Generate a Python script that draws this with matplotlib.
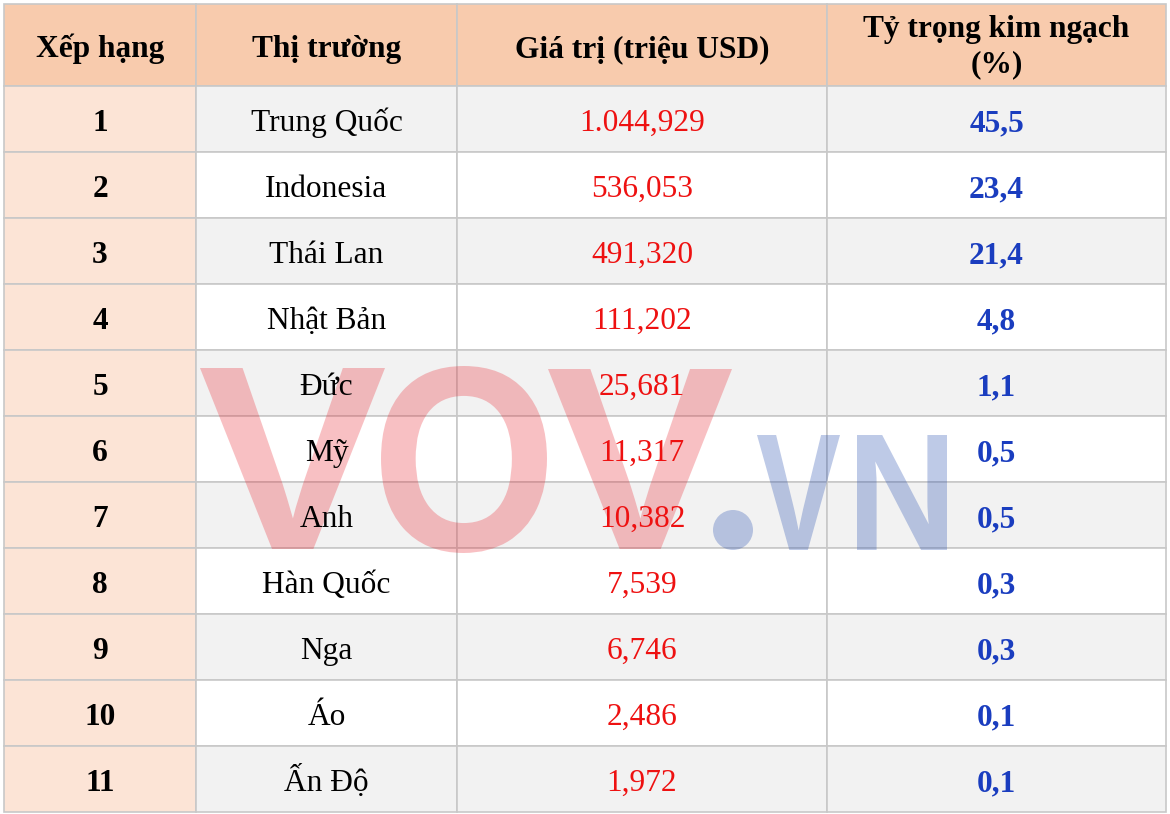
import matplotlib.pyplot as plt
from matplotlib.patches import Rectangle, PathPatch
from matplotlib.path import Path
from matplotlib.textpath import TextPath
from matplotlib.font_manager import FontProperties
from matplotlib.transforms import Affine2D

# Table data
headers = ["Xếp hạng", "Thị trường", "Giá trị (triệu USD)", "Tỷ trọng kim ngạch\n(%)"]
ranks = ["1", "2", "3", "4", "5", "6", "7", "8", "9", "10", "11"]
markets = ["Trung Quốc", "Indonesia", "Thái Lan", "Nhật Bản", "Đức", "Mỹ", "Anh",
           "Hàn Quốc", "Nga", "Áo", "Ấn Độ"]
values = ["1.044,929", "536,053", "491,320", "111,202", "25,681", "11,317", "10,382",
          "7,539", "6,746", "2,486", "1,972"]
shares = ["45,5", "23,4", "21,4", "4,8", "1,1", "0,5", "0,5", "0,3", "0,3", "0,1", "0,1"]

W, H = 1170, 814
col_edges = [4, 196, 457, 827, 1166]
header_top, header_bot = 4, 86
row_h = (812 - header_bot) / len(ranks)

fig = plt.figure(figsize=(W / 100, H / 100), dpi=100)
ax = fig.add_axes([0, 0, 1, 1])
ax.set_xlim(0, W)
ax.set_ylim(H, 0)
ax.axis("off")

serif = ["Liberation Serif", "DejaVu Serif"]
grid = "#c8c8c8"
fs = 22.6

# header
for j, h in enumerate(headers):
    x0, x1 = col_edges[j], col_edges[j + 1]
    ax.add_patch(Rectangle((x0, header_top), x1 - x0, header_bot - header_top,
                           facecolor="#f8cbad", edgecolor=grid, lw=1.2, zorder=1))
    lines = h.split("\n")
    base = 57 if len(lines) == 1 else 37
    for k, line in enumerate(lines):
        ax.text((x0 + x1) / 2, base + 35 * k, line, ha="center", va="baseline",
                fontsize=fs, fontweight="bold", family=serif, zorder=5)

# body
for i in range(len(ranks)):
    y0 = header_bot + i * row_h
    yb = y0 + row_h / 2 + 12
    body = "#f2f2f2" if i % 2 == 0 else "#ffffff"
    for j in range(4):
        x0, x1 = col_edges[j], col_edges[j + 1]
        fc = "#fce4d6" if j == 0 else body
        ax.add_patch(Rectangle((x0, y0), x1 - x0, row_h, facecolor=fc,
                               edgecolor=grid, lw=1.2, zorder=1))
    ax.text((col_edges[0] + col_edges[1]) / 2, yb, ranks[i], ha="center", va="baseline",
            fontsize=fs, fontweight="bold", family=serif, zorder=5)
    ax.text((col_edges[1] + col_edges[2]) / 2, yb, markets[i], ha="center", va="baseline",
            fontsize=fs, family=serif, zorder=5)
    ax.text((col_edges[2] + col_edges[3]) / 2, yb, values[i], ha="center", va="baseline",
            fontsize=fs, family=serif, color="#ee1111", zorder=5)
    ax.text((col_edges[3] + col_edges[4]) / 2, yb, shares[i], ha="center", va="baseline",
            fontsize=fs, fontweight="bold", family=serif, color="#1a3dbf", zorder=5)

# watermark "VOV.VN", each glyph fitted to its box
wm_font = FontProperties(family="Liberation Sans", weight="bold")


def glyph(ch, x0, x1, ytop, ybot):
    tp = TextPath((0, 0), ch, size=100, prop=wm_font)
    ext = tp.get_extents()
    tr = (Affine2D().translate(-ext.x0, -ext.y0)
          .scale((x1 - x0) / ext.width, -(ybot - ytop) / ext.height)
          .translate(x0, ybot))
    return tr.transform_path(tp)


red_paths = [glyph("V", 200, 385, 368, 549),
             glyph("O", 381, 547, 366, 553),
             glyph("V", 548, 732, 369, 549)]
blue_paths = [Path.circle((733, 530), 20),
              glyph("V", 757, 840, 435, 550),
              glyph("N", 857, 947, 435, 550)]
ax.add_patch(PathPatch(Path.make_compound_path(*red_paths), facecolor="#e8202a",
                       edgecolor="none", alpha=0.28, zorder=3))
ax.add_patch(PathPatch(Path.make_compound_path(*blue_paths), facecolor="#2850b0",
                       edgecolor="none", alpha=0.3, zorder=3))

fig.savefig("out.png", dpi=100)
